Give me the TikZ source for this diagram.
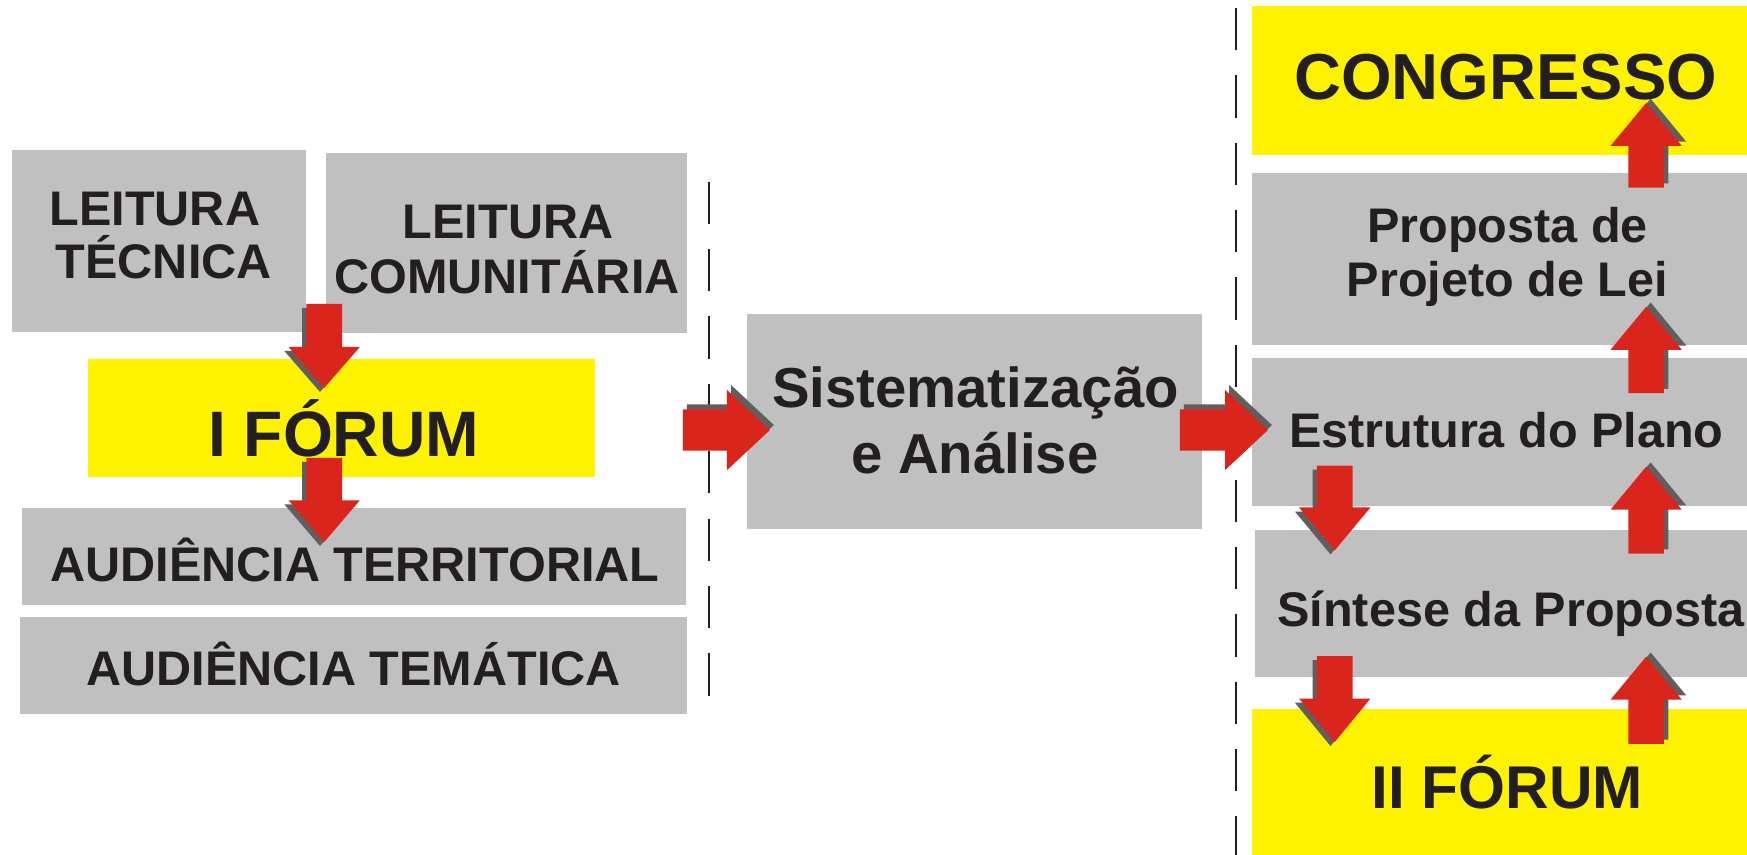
\documentclass[tikz,border=0pt]{standalone}
\usepackage{fontspec}
\setmainfont{Liberation Sans}
\usetikzlibrary{calc}
\definecolor{boxgray}{RGB}{192,192,192}
\definecolor{boxyellow}{RGB}{255,242,0}
\definecolor{arrred}{RGB}{218,37,29}
\definecolor{arrshadow}{RGB}{98,94,94}
\definecolor{txtcol}{RGB}{35,31,32}
\tikzset{
  gbox/.style={rectangle, fill=boxgray, draw=none, inner sep=0pt, outer sep=0pt},
  ybox/.style={rectangle, fill=boxyellow, draw=none, inner sep=0pt, outer sep=0pt},
  lbl/.style={anchor=base, inner sep=0pt, outer sep=0pt, text=txtcol, font=\fontsize{12.4}{14}\selectfont\bfseries},
  lblmid/.style={lbl, font=\fontsize{14.37}{16}\selectfont\bfseries},
  lblbig/.style={lbl, font=\fontsize{16.4}{18}\selectfont\bfseries},
  sepline/.style={draw=txtcol, line width=0.5pt, dash pattern=on 10.8pt off 6.4pt},
}
% box: style, name, x1, y1, x2, y2 (picture units)
\newcommand{\rbox}[6]{%
  \node[#1, minimum width={(#5-#3)*0.01cm}, minimum height={(#6-#4)*0.01cm}] (#2) at ({(#3+#5)/2},{(#4+#6)/2}) {};}
% vertical block arrow: x, tail y, head-base y, tip y, shadow dx, shadow dy
\newcommand{\vblock}[6]{%
  \begin{scope}[shift={(#5,#6)}]
    \fill[arrshadow] ({#1-16},#2) -- ({#1+16},#2) -- ({#1+16},#3) -- ({#1+32},#3) -- (#1,#4) -- ({#1-32},#3) -- ({#1-16},#3) -- cycle;
  \end{scope}
  \fill[arrred] ({#1-16},#2) -- ({#1+16},#2) -- ({#1+16},#3) -- ({#1+32},#3) -- (#1,#4) -- ({#1-32},#3) -- ({#1-16},#3) -- cycle;}
% horizontal block arrow: y, tail x, head-base x, tip x, shadow dx, shadow dy
\newcommand{\hblock}[6]{%
  \begin{scope}[shift={(#5,#6)}]
    \fill[arrshadow] (#2,{#1-18.5}) -- (#3,{#1-18.5}) -- (#3,{#1-36}) -- (#4,#1) -- (#3,{#1+36}) -- (#3,{#1+18.5}) -- (#2,{#1+18.5}) -- cycle;
  \end{scope}
  \fill[arrred] (#2,{#1-18.5}) -- (#3,{#1-18.5}) -- (#3,{#1-36}) -- (#4,#1) -- (#3,{#1+36}) -- (#3,{#1+18.5}) -- (#2,{#1+18.5}) -- cycle;}
\begin{document}
\begin{tikzpicture}[x=0.01cm, y=-0.01cm]
\useasboundingbox[fill=white] (0,0) rectangle (1568,767);
% separators
\coordinate (s1a) at (636,163);
\coordinate (s1b) at (636,625);
\coordinate (s2a) at (1109,7);
\coordinate (s2b) at (1109,767);
\draw[sepline] (s1a) -- (s1b);
\draw[sepline] (s2a) -- (s2b);
% boxes
\rbox{gbox}{tec}{11}{134.5}{275}{298}
\rbox{gbox}{com}{292.6}{137.3}{617}{299}
\rbox{ybox}{f1}{79}{322}{534}{428}
\rbox{gbox}{audter}{20}{456}{616}{543}
\rbox{gbox}{audtem}{18}{554}{617}{641}
\rbox{gbox}{sis}{670.4}{282}{1079}{475}
\rbox{ybox}{cong}{1123.5}{5.5}{1568}{139}
\rbox{gbox}{prop}{1123.5}{155}{1568}{309.5}
\rbox{gbox}{estr}{1123.5}{321.5}{1568}{454.5}
\rbox{gbox}{sint}{1126.5}{475.5}{1568}{608}
\rbox{ybox}{f2}{1123.5}{636.6}{1568}{767}
% texts
\node[lbl] (tecA) at (139,202) {LEITURA};
\node[lbl] (tecB) at (147,250) {TÉCNICA};
\node[lbl] (comA) at (456,214) {LEITURA};
\node[lbl] (comB) at (455,263) {COMUNITÁRIA};
\node[lblbig] (f1T) at (308.5,410) {I FÓRUM};
\node[lbl] (audterT) at (318.5,522) {AUDIÊNCIA TERRITORIAL};
\node[lbl] (audtemT) at (317.5,615) {AUDIÊNCIA TEMÁTICA};
\node[lblmid] (sisA) at (875.5,366) {Sistematização};
\node[lblmid] (sisB) at (875,425) {e Análise};
\node[lblbig, font=\fontsize{16.6}{18}\selectfont\bfseries] (congT) at (1351.5,89) {CONGRESSO};
\node[lbl] (propA) at (1353,218) {Proposta de};
\node[lbl] (propB) at (1353,266) {Projeto de Lei};
\node[lbl] (estrT) at (1352,402) {Estrutura do Plano};
\node[lbl] (sintT) at (1356,562) {Síntese da Proposta};
\node[lblbig, font=\fontsize{15.4}{17}\selectfont\bfseries] (f2T) at (1353,726) {II FÓRUM};
% block arrows
\vblock{291}{272.8}{311.4}{348.2}{-3.8}{3.6}
\vblock{291}{411}{449}{486.5}{-3.8}{3.6}
\vblock{1198}{418}{455.5}{494}{-3.8}{3.6}
\vblock{1198}{589}{627}{666}{-3.8}{3.6}
\vblock{1477.5}{168.5}{131}{92.4}{4}{-3.8}
\vblock{1477.5}{352.8}{314}{275.3}{4}{-3.8}
\vblock{1477.5}{497}{457.5}{418.8}{4}{-3.8}
\vblock{1477.5}{667.7}{628}{589.4}{4}{-3.8}
\hblock{386}{613}{652.5}{691}{3.6}{-4.5}
\hblock{386}{1059}{1099.5}{1138}{3.6}{-4.5}
\end{tikzpicture}
\end{document}
